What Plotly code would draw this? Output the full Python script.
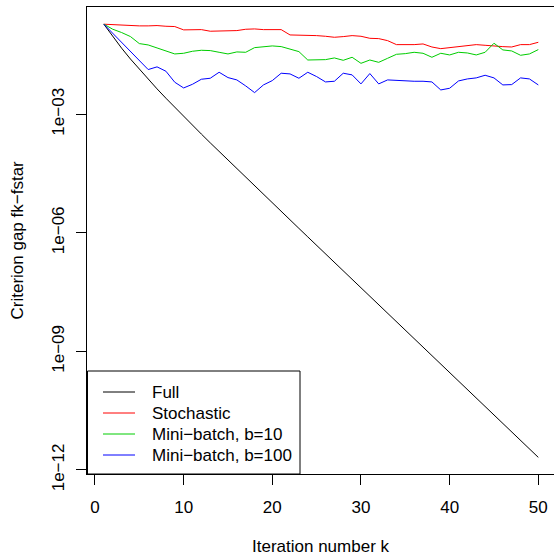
import plotly.graph_objects as go

# Iteration numbers
iterations = list(range(1, 51))

# log10 of criterion gap f(k) - f*
full_log10 = [-0.720, -1.034, -1.326, -1.601, -1.862, -2.114, -2.357, -2.593, -2.825, -3.053,
              -3.278, -3.501, -3.722, -3.941, -4.159, -4.377, -4.594, -4.810, -5.026, -5.242,
              -5.457, -5.672, -5.887, -6.102, -6.317, -6.532, -6.746, -6.961, -7.176, -7.390,
              -7.605, -7.820, -8.034, -8.249, -8.463, -8.678, -8.892, -9.107, -9.321, -9.536,
              -9.750, -9.965, -10.179, -10.394, -10.608, -10.823, -11.037, -11.252, -11.466, -11.681]

stochastic_log10 = [-0.720, -0.730, -0.755, -0.763, -0.763, -0.763, -0.755, -0.772, -0.780, -0.864,
                    -0.857, -0.857, -0.898, -0.898, -0.890, -0.882, -0.848, -0.840, -0.857, -0.848,
                    -0.857, -0.992, -0.992, -0.992, -1.009, -1.026, -1.051, -1.034, -1.009, -1.026,
                    -1.077, -1.085, -1.136, -1.237, -1.246, -1.237, -1.220, -1.297, -1.339, -1.313,
                    -1.305, -1.271, -1.237, -1.254, -1.280, -1.288, -1.297, -1.237, -1.237, -1.178]

minibatch10_log10 = [-0.720, -0.847, -0.931, -1.033, -1.211, -1.245, -1.321, -1.405, -1.473, -1.456,
                     -1.405, -1.380, -1.388, -1.431, -1.473, -1.422, -1.431, -1.313, -1.287, -1.270,
                     -1.287, -1.355, -1.414, -1.626, -1.617, -1.617, -1.574, -1.634, -1.557, -1.710,
                     -1.626, -1.685, -1.583, -1.482, -1.465, -1.431, -1.456, -1.557, -1.456, -1.498,
                     -1.431, -1.448, -1.498, -1.431, -1.202, -1.371, -1.397, -1.507, -1.473, -1.363]

minibatch100_log10 = [-0.720, -0.946, -1.175, -1.403, -1.640, -1.868, -1.800, -1.910, -2.189, -2.333,
                      -2.240, -2.113, -2.088, -1.936, -2.071, -2.130, -2.282, -2.451, -2.257, -2.147,
                      -1.961, -1.978, -2.088, -1.936, -2.046, -2.181, -2.164, -1.961, -2.003, -2.231,
                      -1.969, -2.231, -2.130, -2.147, -2.156, -2.164, -2.164, -2.181, -2.384, -2.341,
                      -2.156, -2.105, -2.079, -2.012, -2.079, -2.257, -2.248, -2.079, -2.105, -2.257]

series_names = ["Full", "Stochastic", "Mini\u2212batch, b=10", "Mini\u2212batch, b=100"]
series_colors = ["#000000", "#FF0000", "#00CD00", "#0000FF"]
series_log10 = [full_log10, stochastic_log10, minibatch10_log10, minibatch100_log10]

x_ticks = [0, 10, 20, 30, 40, 50]
y_tick_vals = [1e-3, 1e-6, 1e-9, 1e-12]
y_tick_text = ["1e\u221203", "1e\u221206", "1e\u221209", "1e\u221212"]

FONT = "Liberation Sans, Arial, Helvetica, sans-serif"

W, H = 554, 556
ML, MR, MT, MB = 87, 0, 7, 82
PW, PH = W - ML - MR, H - MT - MB


def px_x(p):
    return (p - ML) / PW


def px_y(p):
    return (H - MB - p) / PH


fig = go.Figure()
for name, color, vals in zip(series_names, series_colors, series_log10):
    fig.add_trace(go.Scatter(
        x=iterations, y=[10 ** v for v in vals], mode="lines", name=name,
        line=dict(color=color, width=1), showlegend=False,
    ))

# Legend drawn in R style: bordered box, line samples and labels
shapes = [dict(type="rect", xref="paper", yref="paper",
               x0=px_x(87.5), x1=px_x(300), y0=px_y(474), y1=px_y(371),
               line=dict(color="black", width=1), fillcolor="white", layer="above")]
annotations = []
row_y = [392, 413, 434, 455]
for name, color, ry in zip(series_names, series_colors, row_y):
    shapes.append(dict(type="line", xref="paper", yref="paper",
                       x0=px_x(103), x1=px_x(135), y0=px_y(ry), y1=px_y(ry),
                       line=dict(color=color, width=1), layer="above"))
    annotations.append(dict(text=name, xref="paper", yref="paper", x=px_x(150), y=px_y(ry),
                            xanchor="left", yanchor="middle", showarrow=False,
                            font=dict(family=FONT, size=17, color="black")))

annotations += [
    dict(text="Iteration number k", xref="paper", yref="paper", x=0.5, y=0,
         xanchor="center", yanchor="middle", yshift=-72, showarrow=False,
         font=dict(family=FONT, size=17, color="black")),
    dict(text="Criterion gap fk\u2212fstar", xref="paper", yref="paper", x=0, y=0.5,
         xanchor="center", yanchor="middle", xshift=-70, textangle=-90, showarrow=False,
         font=dict(family=FONT, size=17, color="black")),
]

fig.update_layout(
    width=W, height=H,
    margin=dict(l=ML, r=MR, t=MT, b=MB),
    paper_bgcolor="white", plot_bgcolor="white",
    font=dict(family=FONT, size=17, color="black"),
    showlegend=False,
    xaxis=dict(
        range=[-0.90, 51.77], tickvals=x_ticks, ticks="outside", ticklen=10,
        tickcolor="black", tickwidth=1, showgrid=False, zeroline=False,
        showline=True, mirror=True, linecolor="black", linewidth=1,
        ticklabelstandoff=8,
        tickfont=dict(family=FONT, size=17, color="black"),
    ),
    yaxis=dict(
        type="log", range=[-12.102, -0.285], tickvals=y_tick_vals, ticktext=y_tick_text,
        tickangle=-90, ticks="outside", ticklen=10, tickcolor="black", tickwidth=1,
        showgrid=False, zeroline=False, showline=True, mirror=False,
        linecolor="black", linewidth=1, ticklabelstandoff=5,
        tickfont=dict(family=FONT, size=17, color="black"),
    ),
    shapes=shapes,
    annotations=annotations,
)

fig.write_html("out.html", config={"displayModeBar": False},
               post_script="document.body.style.margin='0';")
